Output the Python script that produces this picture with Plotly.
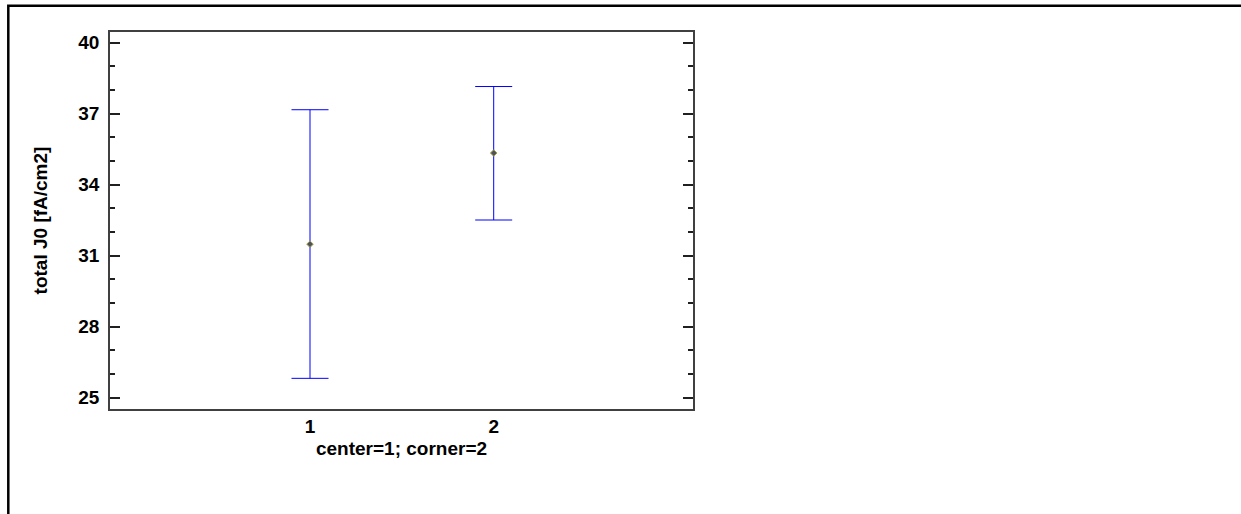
import plotly.graph_objects as go

groups = [1, 2]
group_labels = ["1", "2"]
means = [31.48, 35.33]
lower = [25.81, 32.50]
upper = [37.16, 38.14]
y_ticks = [25, 28, 31, 34, 37, 40]

err_plus = [u - m for u, m in zip(upper, means)]
err_minus = [m - l for m, l in zip(means, lower)]

L, T, R, B = 110, 32, 1241 - 693, 514 - 409
W, H = 1241, 514
pw, ph = W - L - R, H - T - B

fig = go.Figure()
fig.add_trace(go.Scatter(
    x=groups, y=means, mode="markers",
    marker=dict(symbol="diamond", size=5, color="#505060",
                line=dict(color="#a0a040", width=1)),
    error_y=dict(type="data", symmetric=False, array=err_plus, arrayminus=err_minus,
                 color="#0000ff", thickness=1, width=18.5),
    showlegend=False,
))

font_fam = "Liberation Sans, Arial, sans-serif"
fig.update_layout(
    width=W, height=H,
    margin=dict(l=L, r=R, t=T, b=B, pad=0),
    paper_bgcolor="white", plot_bgcolor="white",
    font=dict(family=font_fam, color="black"),
    xaxis=dict(
        range=[1 - 200 / 183.7, 2 + 199.3 / 183.7],
        tickvals=groups, ticktext=group_labels,
        ticks="", showgrid=False, zeroline=False,
        showline=True, mirror=True, linecolor="#404040", linewidth=1.5,
        tickfont=dict(size=19, weight="bold"),
        ticklabelstandoff=-1,
        title=dict(text="center=1; corner=2", font=dict(size=19, weight="bold"), standoff=6),
    ),
    yaxis=dict(
        range=[24.514, 40.444],
        tickvals=y_ticks, ticktext=[str(v) for v in y_ticks],
        ticks="inside", ticklen=10, tickwidth=1.5, tickcolor="#202020",
        minor=dict(dtick=1, tick0=25, ticks="inside", ticklen=5, tickwidth=1.5, tickcolor="#202020", showgrid=False),
        showgrid=False, zeroline=False,
        showline=True, mirror="ticks", linecolor="#404040", linewidth=1.5,
        tickfont=dict(size=19, weight="bold"),
        ticklabelstandoff=5,
        title=dict(text="total J0 [fA/cm2]", font=dict(size=19, weight="bold"), standoff=26),
    ),
)

# outer frame (partially outside the visible page)
fig.add_shape(type="rect", xref="paper", yref="paper",
              x0=(8.3 - L) / pw, x1=2.5, y0=-2.0, y1=(H - B - 5.7) / ph,
              line=dict(color="black", width=2.5), fillcolor="rgba(0,0,0,0)", layer="below")

fig.write_html("out.html")
